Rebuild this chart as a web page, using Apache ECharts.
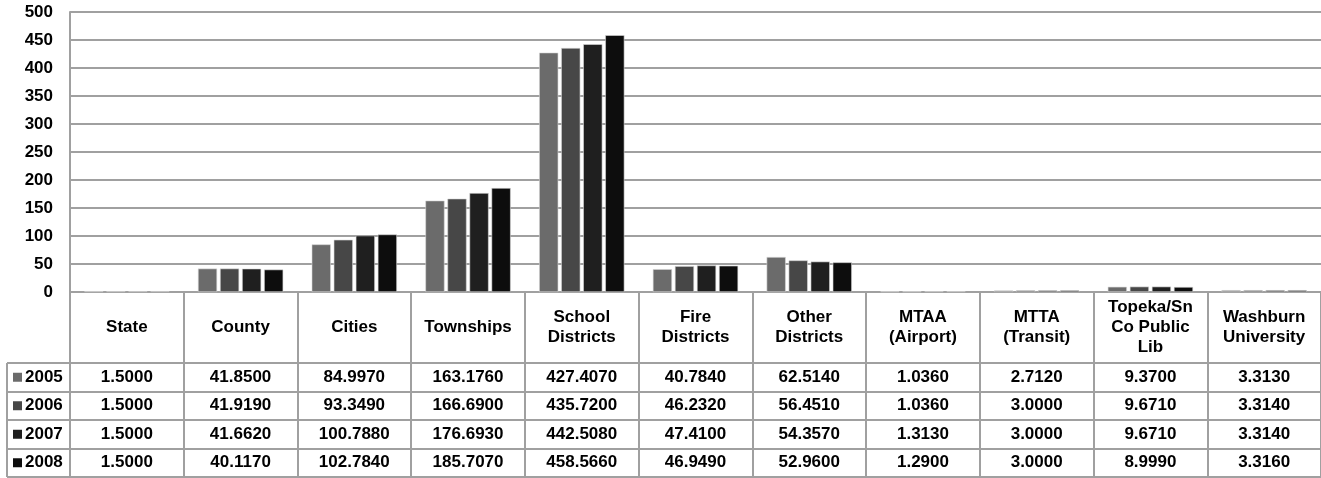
<!DOCTYPE html>
<html lang="en">
  <head>
    <meta charset="UTF-8" />
    <title>Mill levies by taxing unit</title>
    <style>
      html,
      body {
        width: 100%;
        height: 100%;
        overflow: hidden;
        margin: 0;
        background: #fff;
      }
      #main {
        width: 1321px;
        height: 478px;
      }
    </style>
  </head>
  <body>
    <div id="main"></div>
    <script src="https://cdn.jsdelivr.net/npm/echarts@6/dist/echarts.min.js"></script>
    <script>
      // categories (header row of the data table)
      const categories = [
        "State",
        "County",
        "Cities",
        "Townships",
        "School\nDistricts",
        "Fire\nDistricts",
        "Other\nDistricts",
        "MTAA\n(Airport)",
        "MTTA\n(Transit)",
        "Topeka/Sn\nCo Public\nLib",
        "Washburn\nUniversity",
      ];
      const years = ["2005", "2006", "2007", "2008"];
      const v2005 = [1.5, 41.85, 84.997, 163.176, 427.407, 40.784, 62.514, 1.036, 2.712, 9.37, 3.313];
      const v2006 = [1.5, 41.919, 93.349, 166.69, 435.72, 46.232, 56.451, 1.036, 3.0, 9.671, 3.314];
      const v2007 = [1.5, 41.662, 100.788, 176.693, 442.508, 47.41, 54.357, 1.313, 3.0, 9.671, 3.314];
      const v2008 = [1.5, 40.117, 102.784, 185.707, 458.566, 46.949, 52.96, 1.29, 3.0, 8.999, 3.316];
      const yTicks = { min: 0, max: 500, interval: 50 };

      const values = [v2005, v2006, v2007, v2008];
      const colors = ["#6b6b6b", "#474747", "#1f1f1f", "#0d0d0d"];
      const lineColor = "#a0a0a0";
      const font = "'Liberation Sans', Arial, sans-serif";

      const chart = echarts.init(document.getElementById("main"));
      chart.setOption({
        animation: false,
        textStyle: { fontFamily: font },
        grid: { left: 70, right: 0, top: 12, bottom: 186, outerBoundsMode: "none" },
        xAxis: {
          type: "category",
          data: categories,
          axisLine: { show: true, lineStyle: { color: lineColor, width: 2 } },
          axisTick: {
            show: true,
            interval: 0,
            length: 185,
            lineStyle: { color: lineColor, width: 2 },
          },
          axisLabel: {
            interval: 0,
            margin: 35,
            verticalAlign: "middle",
            color: "#000",
            fontWeight: "bold",
            fontSize: 17,
            lineHeight: 20,
            fontFamily: font,
          },
        },
        yAxis: {
          type: "value",
          min: yTicks.min,
          max: yTicks.max,
          interval: yTicks.interval,
          axisLine: { show: true, lineStyle: { color: lineColor, width: 2 } },
          axisTick: { show: false },
          splitLine: { lineStyle: { color: lineColor, width: 2 } },
          axisLabel: {
            margin: 17,
            color: "#000",
            fontWeight: "bold",
            fontSize: 17,
            fontFamily: font,
          },
        },
        series: years.map((y, i) => ({
          name: y,
          type: "bar",
          data: values[i],
          barGap: "15%",
          barCategoryGap: "25%",
          itemStyle: { color: colors[i], borderColor: "#d8d8d8", borderWidth: 0.6 },
        })),
      });

      // data table under the axis, cells placed from the axis scale
      const tableTop = 363;
      const rowH = 28.5;
      const tableLeft = 7;
      const graphic = [];
      for (let r = 0; r <= years.length; r++) {
        const y = Math.round(tableTop + r * rowH);
        graphic.push({
          type: "line",
          shape: { x1: tableLeft, y1: y, x2: 1321, y2: y },
          style: { stroke: lineColor, lineWidth: 2 },
          silent: true,
        });
      }
      graphic.push({
        type: "line",
        shape: { x1: tableLeft, y1: tableTop, x2: tableLeft, y2: tableTop + rowH * years.length },
        style: { stroke: lineColor, lineWidth: 2 },
      });
      years.forEach((y, r) => {
        const cy = tableTop + rowH * (r + 0.5);
        graphic.push({
          type: "rect",
          shape: { x: 13, y: cy - 4.5, width: 9, height: 9 },
          style: { fill: colors[r] },
        });
        graphic.push({
          type: "text",
          x: 25,
          y: cy,
          style: {
            text: y,
            font: "bold 17px " + font,
            fill: "#000",
            verticalAlign: "middle",
          },
        });
        values[r].forEach((v, c) => {
          const cx = chart.convertToPixel({ xAxisIndex: 0 }, c);
          graphic.push({
            type: "text",
            x: cx,
            y: cy,
            style: {
              text: v.toFixed(4),
              font: "bold 17px " + font,
              fill: "#000",
              align: "center",
              verticalAlign: "middle",
            },
          });
        });
      });
      chart.setOption({ graphic: graphic });
    </script>
  </body>
</html>
